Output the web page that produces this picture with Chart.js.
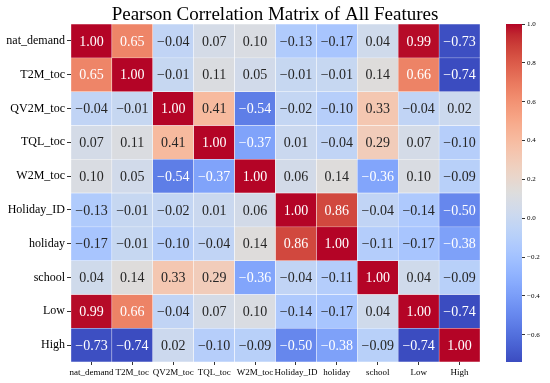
<!DOCTYPE html>
<html>
<head>
<meta charset="utf-8">
<script src="https://cdn.jsdelivr.net/npm/chart.js@4"></script>
<style>
    html, body { margin: 0; padding: 0; background: #fff; }
    #wrap { position: relative; width: 550px; height: 383px; }
    #heat { position: absolute; left: 0; top: 0; }
    #cbar { position: absolute; left: 480px; top: 0; }
</style>
</head>
<body>
<div id="wrap">
    <canvas id="heat" width="550" height="383"></canvas>
    <canvas id="cbar" width="70" height="383"></canvas>
</div>
<script>
// Feature names (rows top to bottom, columns left to right)
const features = ['nat_demand', 'T2M_toc', 'QV2M_toc', 'TQL_toc', 'W2M_toc', 'Holiday_ID', 'holiday', 'school', 'Low', 'High'];
const chartTitle = 'Pearson Correlation Matrix of All Features';

// Correlation rows
const rowNatDemand = [1.00, 0.65, -0.04, 0.07, 0.10, -0.13, -0.17, 0.04, 0.99, -0.73];
const rowT2M       = [0.65, 1.00, -0.01, 0.11, 0.05, -0.01, -0.01, 0.14, 0.66, -0.74];
const rowQV2M      = [-0.04, -0.01, 1.00, 0.41, -0.54, -0.02, -0.10, 0.33, -0.04, 0.02];
const rowTQL       = [0.07, 0.11, 0.41, 1.00, -0.37, 0.01, -0.04, 0.29, 0.07, -0.10];
const rowW2M       = [0.10, 0.05, -0.54, -0.37, 1.00, 0.06, 0.14, -0.36, 0.10, -0.09];
const rowHolidayID = [-0.13, -0.01, -0.02, 0.01, 0.06, 1.00, 0.86, -0.04, -0.14, -0.50];
const rowHoliday   = [-0.17, -0.01, -0.10, -0.04, 0.14, 0.86, 1.00, -0.11, -0.17, -0.38];
const rowSchool    = [0.04, 0.14, 0.33, 0.29, -0.36, -0.04, -0.11, 1.00, 0.04, -0.09];
const rowLow       = [0.99, 0.66, -0.04, 0.07, 0.10, -0.14, -0.17, 0.04, 1.00, -0.74];
const rowHigh      = [-0.73, -0.74, 0.02, -0.10, -0.09, -0.50, -0.38, -0.09, -0.74, 1.00];

const matrix = [rowNatDemand, rowT2M, rowQV2M, rowTQL, rowW2M, rowHolidayID, rowHoliday, rowSchool, rowLow, rowHigh];

// Colour scale range and colorbar ticks
const vmin = -0.74;
const vmax = 1.0;
const cbarTicks = [-0.6, -0.4, -0.2, 0.0, 0.2, 0.4, 0.6, 0.8, 1.0];

// coolwarm colormap samples
const coolwarm = [
    [59, 76, 192], [68, 90, 204], [77, 104, 215], [87, 117, 225], [98, 130, 234],
    [108, 142, 241], [119, 154, 247], [130, 165, 251], [141, 176, 254], [152, 185, 255],
    [163, 194, 255], [174, 201, 253], [184, 208, 249], [194, 213, 244], [204, 217, 238],
    [213, 219, 230], [221, 221, 221], [229, 216, 209], [236, 211, 197], [241, 204, 185],
    [245, 196, 173], [247, 187, 160], [247, 177, 148], [247, 166, 135], [244, 154, 123],
    [241, 141, 111], [236, 127, 99], [229, 112, 88], [222, 96, 77], [213, 80, 66],
    [203, 62, 56], [192, 40, 47], [180, 4, 38]
];

function cmap(t) {
    t = Math.max(0, Math.min(1, t));
    const pos = t * (coolwarm.length - 1);
    const i = Math.min(Math.floor(pos), coolwarm.length - 2);
    const f = pos - i;
    const a = coolwarm[i], b = coolwarm[i + 1];
    return [0, 1, 2].map(k => Math.round(a[k] + (b[k] - a[k]) * f));
}

function colorFor(v) {
    const c = cmap((v - vmin) / (vmax - vmin));
    return `rgb(${c[0]}, ${c[1]}, ${c[2]})`;
}

function isDark(v) {
    const c = cmap((v - vmin) / (vmax - vmin)).map(x => {
        x /= 255;
        return x <= 0.03928 ? x / 12.92 : Math.pow((x + 0.055) / 1.055, 2.4);
    });
    const lum = 0.2126 * c[0] + 0.7152 * c[1] + 0.0722 * c[2];
    return lum <= 0.408;
}

function fmt(v, digits) {
    const s = Math.abs(v).toFixed(digits);
    return v < -0.000001 ? '\u2212' + s : s;
}

const serif = "'Liberation Serif', 'Times New Roman', serif";

// Cell annotations + title centred on the whole figure
const annotatePlugin = {
    id: 'annotate',
    afterDatasetsDraw(chart) {
        const ctx = chart.ctx;
        ctx.save();
        ctx.font = `14px ${serif}`;
        ctx.textAlign = 'center';
        ctx.textBaseline = 'middle';
        chart.data.datasets.forEach((ds, i) => {
            const meta = chart.getDatasetMeta(i);
            meta.data.forEach((el, j) => {
                const v = matrix[i][j];
                ctx.fillStyle = isDark(v) ? '#ffffff' : '#262626';
                ctx.fillText(fmt(v, 2), el.x, (el.y + el.base) / 2 + 1);
            });
        });

        // title
        ctx.font = `19px ${serif}`;
        ctx.fillStyle = '#000';
        ctx.textBaseline = 'alphabetic';
        ctx.fillText(chartTitle, chart.width / 2, 20);
        ctx.restore();
    }
};

new Chart(document.getElementById('heat'), {
    type: 'bar',
    data: {
        labels: features,
        datasets: matrix.map((row, i) => ({
            label: features[i],
            data: row.map(() => 1),
            backgroundColor: row.map(v => colorFor(v)),
            borderColor: '#ffffff',
            borderWidth: 0.5,
            borderSkipped: false,
            barPercentage: 1,
            categoryPercentage: 1,
            stack: 'm'
        }))
    },
    options: {
        responsive: false,
        animation: false,
        layout: { padding: { left: 0, right: 70, top: 24, bottom: 0 } },
        plugins: {
            legend: { display: false },
            tooltip: { enabled: false },
            title: { display: false }
        },
        scales: {
            x: {
                stacked: true,
                offset: true,
                grid: { offset: false, drawOnChartArea: false, drawTicks: true, tickLength: 3, color: '#333' },
                border: { display: false },
                ticks: {
                    color: '#000',
                    font: { family: serif, size: 9 },
                    maxRotation: 0,
                    autoSkip: false,
                    padding: 2
                },
                afterFit(scale) { scale.height = 21; }
            },
            y: {
                stacked: true,
                reverse: true,
                min: 0,
                max: features.length,
                grid: { drawOnChartArea: false, drawTicks: true, tickLength: 4, color: '#333' },
                border: { display: false },
                afterBuildTicks(scale) {
                    scale.ticks = features.map((f, i) => ({ value: i + 0.5 }));
                },
                ticks: {
                    color: '#000',
                    font: { family: serif, size: 12 },
                    padding: 2,
                    callback: (value, index) => features[index]
                },
                afterFit(scale) { scale.width = 71; }
            }
        }
    },
    plugins: [annotatePlugin]
});

// Colorbar
new Chart(document.getElementById('cbar'), {
    type: 'bar',
    data: {
        labels: [''],
        datasets: [{
            data: [[vmin, vmax]],
            barPercentage: 1,
            categoryPercentage: 1,
            borderWidth: 0,
            backgroundColor(context) {
                const chart = context.chart;
                const area = chart.chartArea;
                if (!area) return null;
                const ys = chart.scales.y;
                const g = chart.ctx.createLinearGradient(0, ys.getPixelForValue(vmin), 0, ys.getPixelForValue(vmax));
                for (let k = 0; k <= 64; k++) {
                    const c = cmap(k / 64);
                    g.addColorStop(k / 64, `rgb(${c[0]}, ${c[1]}, ${c[2]})`);
                }
                return g;
            }
        }]
    },
    options: {
        responsive: false,
        animation: false,
        layout: { padding: { left: 26, right: 0, top: 24, bottom: 21 } },
        plugins: {
            legend: { display: false },
            tooltip: { enabled: false }
        },
        scales: {
            x: { display: false },
            y: {
                position: 'right',
                min: vmin,
                max: vmax,
                grid: { drawOnChartArea: false, drawTicks: true, tickLength: 3, color: '#333' },
                border: { display: false },
                afterBuildTicks(scale) {
                    scale.ticks = cbarTicks.map(v => ({ value: v }));
                },
                ticks: {
                    color: '#000',
                    font: { family: serif, size: 7 },
                    padding: 2,
                    callback: value => fmt(value, 1)
                },
                afterFit(scale) { scale.width = 28; }
            }
        }
    }
});
</script>
</body>
</html>
